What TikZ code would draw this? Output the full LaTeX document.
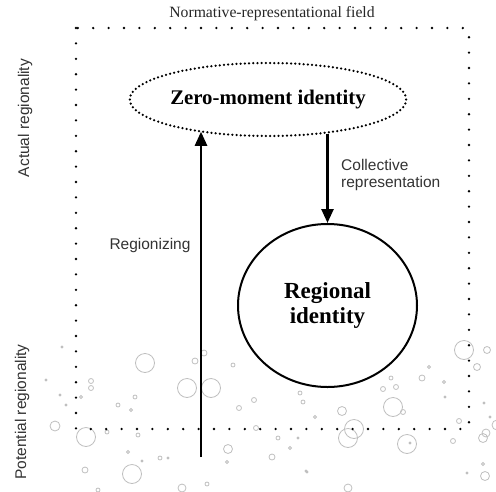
\documentclass[tikz,border=0pt]{standalone}
\usepackage{fontspec}
\setmainfont{Liberation Serif}
\setsansfont{Liberation Sans}
\usetikzlibrary{shapes.geometric,arrows.meta}

\tikzstyle{identity}=[ellipse,inner sep=0pt,font=\bfseries,align=center]
\tikzstyle{label}=[font=\sffamily\fontsize{15.5}{17}\selectfont,text=black!80,inner sep=0pt]
\tikzstyle{arrow}=[draw,line width=2.5pt,-{Triangle[length=14pt,width=12pt]}]
\tikzstyle{bubble}=[draw=black!25,line width=0.8pt]

\begin{document}
\begin{tikzpicture}[x=1pt,y=-1pt]
		\useasboundingbox (0,0) rectangle (496,491);

		\foreach \bx/\by/\br in {62/347/1,145/363/9.5,195/361/3,204/353/3,233/365/2,46/380/1,91/381/2.5,91/388/2.5,
			187/388/9.5,211/388/9.5,60/395/1,81/397/1.5,135/397/2,66/405/1,118/405/2,131/410/1.5,239/408/2.5,
			55/426/5,86/437/9.5,107/432/2,138/435/2,228/449/4.5,128/452/1.5,160/458/2,168/458/1,142/461/1,
			227/462/1.5,85/470/3,132/474/9.5,182/488/4,207/484/2,98/490/2,254/400/2.5,256/428/2.5,278/438/2,
			272/457/3,307/472/1,290/448/1.5,464/350/9.5,487/350/3.5,477/367/3.5,429/367/1.5,422/378/3,
			391/378/2,444/382/1.5,383/389/2.5,396/387/2.5,445/397/1,300/393/2,303/402/2,393/407/9.5,
			403/412/2.5,342/411/4.5,484/403/1,315/417/1.5,490/417/1,459/421/2.5,354/429/9.5,348/438/9.5,
			298/438/1,483/438/4.5,486/433/4,453/441/2.5,407/444/9.5,410/443/1,306/471/1,483/464/1.5,
			467/473/1,485/476/4.5,348/488/4,497/425/5}
			\draw [bubble] (\bx,\by) circle (\br);

		\draw [line width=2.6pt,line cap=round,dash pattern=on 0pt off 15.4pt] (76,28) rectangle (469,429);

		\node []            (field)    at (272, 14)  {\fontsize{15.7}{18}\selectfont\color{black!85}Normative-representational field};
		\node [label,rotate=90] (actual)    at (25,118)   {Actual regionality};
		\node [label,rotate=90] (potential) at (22,412)   {Potential regionality};
		\node [identity,draw,line width=2.5pt,line cap=round,dash pattern=on 0pt off 4.2pt,
		       minimum width=247pt,minimum height=73pt,font=\bfseries\fontsize{20.8}{24}\selectfont]
		                    (zero)     at (268,99.5) {Zero-moment identity};
		\node [identity,draw,line width=2pt,minimum width=179pt,minimum height=163pt,
		       font=\bfseries\fontsize{23}{25}\selectfont]
		                    (regional) at (327.5,305.5) {Regional\\identity};
		\node [label]       (regionizing) at (150,245) {Regionizing};
		\node [label,anchor=west,align=left] (collective) at (341,175) {Collective\\representation};
		\coordinate         (base)     at (201,457);

		\draw [arrow] (base) -- (base |- zero.204);
		\draw [arrow] (regional.north |- zero.330) -- (regional.north);
	\end{tikzpicture}
\end{document}
